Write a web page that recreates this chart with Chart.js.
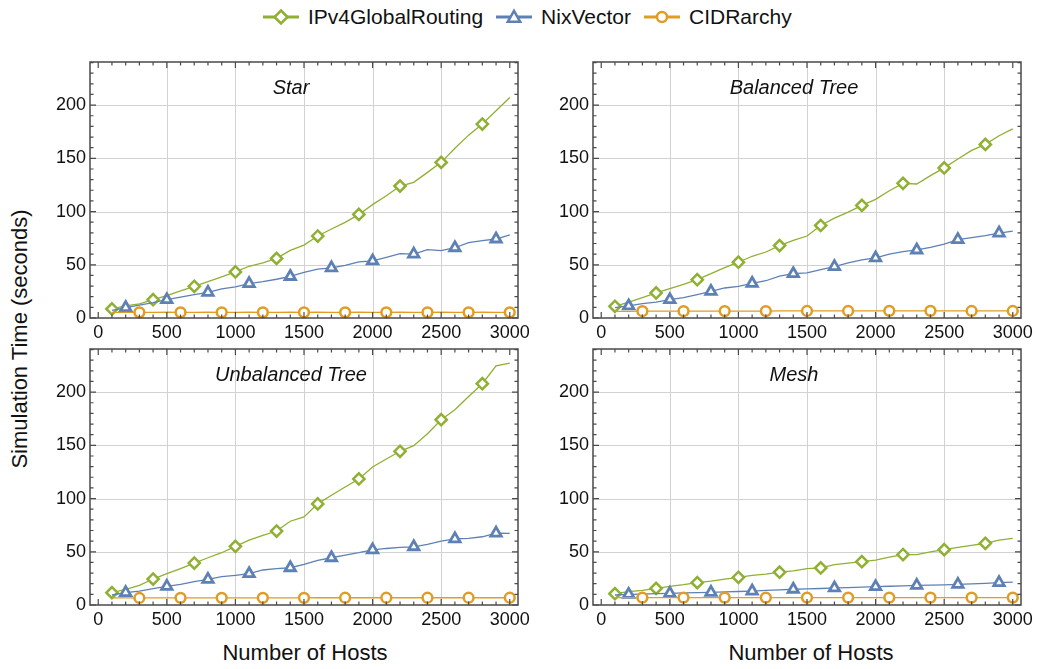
<!DOCTYPE html>
<html><head><meta charset="utf-8">
<script src="https://cdn.jsdelivr.net/npm/chart.js@4"></script>
<style>
html,body{margin:0;padding:0;background:#fff;}
body{width:1040px;height:669px;position:relative;overflow:hidden;font-family:"Liberation Sans",Arial,sans-serif;color:#111;}
canvas{position:absolute;}
#legend{position:absolute;left:263px;top:5px;display:flex;align-items:center;font-size:21px;line-height:24px;white-space:nowrap;}
#legend .li{display:flex;align-items:center;margin-right:13px;}
#legend svg{margin-right:9px;}
.ytitle{position:absolute;left:20px;top:339px;transform:translate(-50%,-50%) rotate(-90deg);font-size:22px;white-space:nowrap;}
.xtitle{position:absolute;top:653px;transform:translate(-50%,-50%);font-size:22px;white-space:nowrap;}
</style></head>
<body>
<div id="legend"></div>
<div class="ytitle">Simulation Time (seconds)</div>
<div class="xtitle" style="left:305px">Number of Hosts</div>
<div class="xtitle" style="left:811px">Number of Hosts</div>
<canvas id="c0" width="540" height="300" style="left:0;top:50px"></canvas>
<canvas id="c1" width="515" height="300" style="left:520px;top:50px"></canvas>
<canvas id="c2" width="540" height="300" style="left:0;top:337px"></canvas>
<canvas id="c3" width="515" height="300" style="left:520px;top:337px"></canvas>
<script>
// ---------- data ----------
const seriesNames = ['IPv4GlobalRouting', 'NixVector', 'CIDRarchy'];
const panelTitles = ['Star', 'Balanced Tree', 'Unbalanced Tree', 'Mesh'];
const hosts = [100,200,300,400,500,600,700,800,900,1000,1100,1200,1300,1400,1500,
               1600,1700,1800,1900,2000,2100,2200,2300,2400,2500,2600,2700,2800,2900,3000];
const xTicks = [0,500,1000,1500,2000,2500,3000];
const yTicks = [0,50,100,150,200];

const starIPv4 = [8.5,11.3,13.2,17.2,21.0,25.4,29.8,34.2,38.6,43.3,48.6,51.9,56.0,63.5,68.5,
                  77.0,83.6,89.9,97.3,106.5,114.8,124.0,127.4,136.8,146.2,159.4,171.8,182.2,194.7,207.2];
const starNix  = [7.2,9.8,12.0,14.4,17.2,19.7,22.0,24.1,27.3,29.2,32.3,34.2,36.4,39.0,42.8,
                  45.9,47.1,49.5,52.8,53.6,56.9,60.5,60.0,64.2,63.3,66.0,70.8,72.6,74.2,78.0];
const starCIDR = [5.3,5.2,5.3,5.3,5.4,5.3,5.3,5.4,5.3,5.3,5.4,5.3,5.3,5.4,5.3,
                  5.4,5.3,5.3,5.4,5.3,5.3,5.4,5.3,5.3,5.4,5.3,5.3,5.4,5.3,5.3];

const balIPv4 = [11.0,15.0,19.1,23.5,27.6,31.7,36.0,41.7,47.3,52.4,58.0,62.0,68.0,73.0,77.0,
                 86.9,93.8,99.4,105.8,111.5,119.6,126.5,125.9,133.7,141.0,149.3,157.5,163.1,171.2,177.6];
const balNix  = [9.7,11.3,13.5,15.0,17.2,19.1,22.0,25.0,28.2,29.8,32.6,35.0,39.4,41.6,42.3,
                 45.4,48.3,51.7,54.6,56.4,60.1,62.3,63.9,66.4,69.5,73.6,75.5,77.3,79.8,81.7];
const balCIDR = [6.3,6.3,6.4,6.4,6.4,6.4,6.5,6.5,6.5,6.5,6.5,6.5,6.6,6.6,6.6,
                 6.6,6.7,6.6,6.6,6.7,6.7,6.6,6.6,6.7,6.6,6.6,6.6,6.6,6.6,6.6];

const unbIPv4 = [11.6,14.7,18.5,24.4,29.4,34.1,39.4,44.4,49.1,55.1,61.0,65.4,69.5,78.7,82.8,
                 95.0,103.1,110.9,118.4,129.7,137.2,144.4,149.7,160.9,174.1,183.4,195.9,207.9,224.7,227.3];
const unbNix  = [9.4,11.6,13.1,15.3,17.5,19.4,21.9,24.1,26.6,27.9,29.4,32.9,34.1,35.0,38.1,
                 41.9,44.4,46.9,49.1,51.8,53.1,54.1,54.7,56.9,60.0,62.2,62.5,64.1,67.5,67.2];
const unbCIDR = [6.6,6.6,6.6,6.7,6.7,6.7,6.7,6.7,6.7,6.7,6.6,6.7,6.7,6.6,6.7,
                 6.8,6.8,6.8,6.8,6.8,6.8,6.8,6.8,6.8,6.8,6.8,6.8,6.8,6.8,6.8];

const meshIPv4 = [10.6,12.5,13.8,15.6,17.5,19.1,21.0,22.5,24.4,26.0,27.9,29.1,30.8,32.1,34.1,
                  34.8,38.0,39.4,40.7,42.2,45.0,47.4,47.4,50.0,52.0,54.1,56.0,58.0,61.0,62.6];
const meshNix  = [9.4,10.0,10.3,10.7,11.0,11.3,11.6,11.9,12.3,12.7,13.1,13.7,14.3,14.8,15.1,
                  15.5,16.0,16.4,16.8,17.2,17.6,18.0,18.4,18.7,19.0,19.4,19.9,20.4,21.0,21.5];
const meshCIDR = [7.0,7.0,7.0,7.0,7.0,7.0,7.0,7.0,7.0,7.0,7.0,7.0,7.0,7.0,7.0,
                  7.0,7.0,7.0,7.0,7.0,7.0,7.0,7.0,7.0,7.0,7.0,7.0,7.0,7.0,7.0];

// ---------- styling ----------
const colors = ['#8FB032', '#5E81B5', '#E19C24'];
const styles = ['rectRot', 'triangle', 'circle'];
const radii = [5.6, 6.0, 4.9];
const borders = [2.5, 2.8, 2.5];
const FONT = '"Liberation Sans", Arial, sans-serif';

// legend
(function(){
  const lg = document.getElementById('legend');
  const shapes = [
    c => `<polygon points="18,3.5 24.5,10 18,16.5 11.5,10" fill="#fff" stroke="${c}" stroke-width="2.5"/>`,
    c => `<polygon points="18,3.8 24.2,14.8 11.8,14.8" fill="#fff" stroke="${c}" stroke-width="2.5"/>`,
    c => `<circle cx="18" cy="10" r="5" fill="#fff" stroke="${c}" stroke-width="2.5"/>`
  ];
  seriesNames.forEach((n, i) => {
    const d = document.createElement('div'); d.className = 'li';
    d.innerHTML = `<svg width="36" height="20" viewBox="0 0 36 20"><line x1="0" y1="10" x2="36" y2="10" stroke="${colors[i]}" stroke-width="2.8"/>${shapes[i](colors[i])}</svg><span>${n}</span>`;
    lg.appendChild(d);
  });
})();

const framePlugin = {
  id: 'frame',
  beforeDatasetsDraw(chart) {
    const {ctx, chartArea: a, scales: {x, y}} = chart;
    ctx.save();
    ctx.strokeStyle = '#d2d2d2'; ctx.lineWidth = 1;
    ctx.beginPath();
    xTicks.filter(v => v > 0 && v < 3000).forEach(v => {
      const px = Math.round(x.getPixelForValue(v)) + 0.5;
      ctx.moveTo(px, a.top); ctx.lineTo(px, a.bottom);
    });
    yTicks.filter(v => v > 0).forEach(v => {
      const py = Math.round(y.getPixelForValue(v)) + 0.5;
      ctx.moveTo(a.left, py); ctx.lineTo(a.right, py);
    });
    ctx.stroke();
    ctx.restore();
  },
  afterDatasetsDraw(chart, args, opts) {
    const {ctx, chartArea: a, scales: {x, y}} = chart;
    ctx.save();
    ctx.strokeStyle = '#4a4a4a'; ctx.lineWidth = 1.2;
    ctx.beginPath();
    for (let v = 0; v <= 3000; v += 100) {
      const px = x.getPixelForValue(v);
      const len = (v % 500 === 0) ? 6 : 3.5;
      ctx.moveTo(px, a.bottom); ctx.lineTo(px, a.bottom - len);
      ctx.moveTo(px, a.top); ctx.lineTo(px, a.top + len);
    }
    for (let v = 0; v <= 240; v += 10) {
      const py = y.getPixelForValue(v);
      const len = (v % 50 === 0) ? 6 : 3.5;
      ctx.moveTo(a.left, py); ctx.lineTo(a.left + len, py);
      ctx.moveTo(a.right, py); ctx.lineTo(a.right - len, py);
    }
    ctx.stroke();
    ctx.lineWidth = 1.5;
    ctx.strokeRect(a.left, a.top, a.right - a.left, a.bottom - a.top);
    ctx.fillStyle = '#111';
    ctx.font = 'italic 20px ' + FONT;
    ctx.textAlign = 'center'; ctx.textBaseline = 'alphabetic';
    ctx.fillText(opts.title, (a.left + a.right) / 2 - 13, a.top + 31.5);
    ctx.restore();
  }
};

function makePanel(id, title, series, yAxisWidth, rightPad) {
  const datasets = series.map((vals, i) => ({
    label: seriesNames[i],
    data: hosts.map((h, k) => ({x: h, y: vals[k]})),
    borderColor: colors[i],
    borderWidth: 1.3,
    pointStyle: styles[i],
    pointRadius: c => (c.dataIndex % 3 === i ? radii[i] : 0),
    pointHoverRadius: 0,
    pointBackgroundColor: '#fff',
    pointBorderColor: colors[i],
    pointBorderWidth: borders[i],
    tension: 0,
    clip: false,
    order: 2 - i
  }));
  new Chart(document.getElementById(id), {
    type: 'line',
    data: {datasets},
    plugins: [framePlugin],
    options: {
      responsive: false,
      animation: false,
      events: [],
      layout: {padding: {top: 12, right: rightPad, left: 0, bottom: 0}},
      plugins: {legend: {display: false}, tooltip: {enabled: false}, frame: {title}},
      scales: {
        x: {
          type: 'linear', min: -60, max: 3060,
          afterBuildTicks: s => { s.ticks = xTicks.map(v => ({value: v})); },
          afterFit: s => { s.height = 32; s.paddingLeft = 0; s.paddingRight = 0; s.paddingTop = 0; s.paddingBottom = 0; },
          grid: {display: false, drawTicks: false},
          border: {display: false},
          ticks: {font: {size: 18, family: FONT}, color: '#111', padding: 4, maxRotation: 0, autoSkip: false,
                  callback: v => String(v)}
        },
        y: {
          type: 'linear', min: 0, max: 240.5,
          afterBuildTicks: s => { s.ticks = yTicks.map(v => ({value: v})); },
          afterFit: s => { s.width = yAxisWidth; s.paddingLeft = 0; s.paddingRight = 0; s.paddingTop = 0; s.paddingBottom = 0; },
          grid: {display: false, drawTicks: false},
          border: {display: false},
          ticks: {font: {size: 18, family: FONT}, color: '#111', padding: 4, autoSkip: false,
                  callback: v => String(v)}
        }
      }
    }
  });
}

makePanel('c0', panelTitles[0], [starIPv4, starNix, starCIDR], 90, 22);
makePanel('c1', panelTitles[1], [balIPv4, balNix, balCIDR], 73, 14);
makePanel('c2', panelTitles[2], [unbIPv4, unbNix, unbCIDR], 90, 22);
makePanel('c3', panelTitles[3], [meshIPv4, meshNix, meshCIDR], 73, 14);
</script>
</body></html>
